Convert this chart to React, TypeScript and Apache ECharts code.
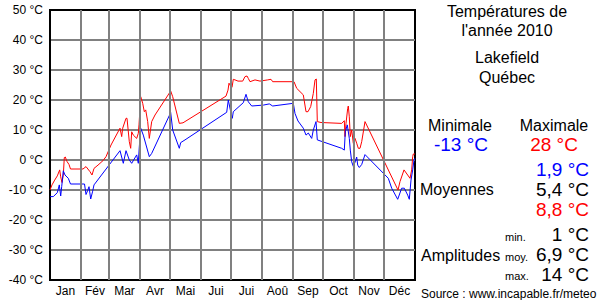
import React, { useEffect, useRef } from "react";
import * as echarts from "echarts";

const monthNames = ["Jan", "Fév", "Mar", "Avr", "Mai", "Jui", "Jui", "Aoû", "Sep", "Oct", "Nov", "Déc"];
const monthStarts = [0, 31, 59, 90, 120, 151, 181, 212, 243, 273, 304, 334, 365];
const yTicks = [-40, -30, -20, -10, 0, 10, 20, 30, 40, 50];

// [day of year, °C]
const maxTemps: [number, number][] = [
  [0, -10], [2, -8.3], [4.7, -6.7], [7.3, -5.3], [9.7, -3.3], [10.7, -5.6], [12, -7.5], [13.3, -5],
  [14.3, 0.8], [15.3, 1], [17, -0.5], [19, -1.5], [20.5, -3], [33, -3], [36, -2.2], [40, -3.9],
  [42, -5], [44, -2.8], [48, -1.7], [53, -0.2], [56, 1.1], [61, 5], [70, 10.6], [71.7, 7.8],
  [72.7, 10.6], [76, 13.9], [77, 13.9], [79.3, 6.1], [80.7, 3.9], [81.7, 9.4], [83.3, 8.3],
  [86.7, 7.2], [88.3, 8.9], [89, 11.7], [90.7, 21.1], [92.7, 18.9], [94.3, 16.1], [95.7, 16.7],
  [97.7, 12.8], [99.3, 7.2], [101.7, 12.8], [105, 15], [120.7, 23], [122.7, 21.1], [129.3, 12.2],
  [133, 12.4], [176, 21.3], [178, 23.3], [179, 25.6], [181, 24.4], [182, 24.2], [183.3, 26.9],
  [185, 26.7], [188, 26.3], [192.7, 26.3], [195, 27.8], [197, 28], [198.3, 27.2], [200, 26.1],
  [205, 26.7], [210, 26.3], [217.7, 26.7], [221, 26.9], [222.7, 26.1], [244, 26.1], [246.7, 23.9],
  [253.3, 21.7], [256, 16.1], [258, 16.1], [260.7, 17.8], [263.3, 22.2], [265, 26.7], [266.3, 27],
  [267.3, 12.8], [271, 12.5], [291.7, 12.2], [294.3, 13.1], [295, 7.8], [296, 12.2], [297.7, 17.2],
  [298.3, 18], [299.3, 14.4], [300.3, 7.8], [301.7, 10], [303.3, 5.6], [305, 7.2], [306.7, 5.6],
  [308.3, 3.9], [310, 3.9], [311.7, 6.1], [315, 12.8], [348, -10], [350, -7.2], [354, -3.3],
  [360, -6.1], [361.7, -3.3], [362.7, 1.1], [363.3, 2], [365, 2],
];

const minTemps: [number, number][] = [
  [0, -12.2], [3.3, -12.2], [7.3, -10.9], [9.3, -8.3], [10.7, -12], [11.7, -8.9], [13.3, -3.6],
  [15, -5], [18.3, -6.1], [20.5, -8], [34.5, -8], [36, -11.5], [37.5, -10.3], [39, -8.9],
  [40.7, -13], [42.5, -10.6], [44, -8.3], [70, 3.1], [73.3, -1.1], [76, 3.1], [79.3, 0],
  [81.7, -1.1], [86.7, 1.7], [88.3, -1.1], [89.3, 4.4], [90.7, 10.6], [93.3, 8.3], [99.3, 1.1],
  [101.7, 2.2], [120.7, 15.8], [122.7, 10], [129.3, 3.9], [130.7, 5.8], [135, 6.7], [176.7, 15.9],
  [178.3, 20], [180.7, 16.1], [182.3, 13.9], [183.3, 16.1], [193.3, 19.1], [196, 21.9],
  [198.3, 19.4], [201.7, 18], [213.3, 18.3], [219.3, 18.7], [222.7, 18], [243.3, 18.9], [245, 15.5],
  [248, 13], [253.3, 10.6], [256, 8.3], [258.3, 9], [261.7, 7.2], [263.3, 10], [266, 12.8],
  [267.3, 6.7], [291.7, 3.9], [294.3, 3.3], [295.3, 9.4], [297.3, 11.7], [299.3, 7.2],
  [300.3, 3.3], [301.7, -0.6], [303.3, -2.1], [305, -0.8], [306.7, 1], [307.7, -1.7],
  [309.3, -2.5], [311.7, -1.5], [315, 1.8], [333.3, -4.4], [338.3, -6.1], [341.7, -9.4],
  [347.7, -13.1], [351.7, -9.4], [354.3, -9.4], [357.7, -11.7], [359.3, -13.1], [361, -6.7],
  [362.7, -3.3], [364, 0], [365, 0.6],
];

const titleLines = ["Températures de", "l'année 2010", "Lakefield", "Québec"];
const extremes = { minLabel: "Minimale", maxLabel: "Maximale", min: "-13 °C", max: "28 °C" };
const averages = ["1,9 °C", "5,4 °C", "8,8 °C"];
const amplitudeNames = ["min.", "moy.", "max."];
const amplitudes = ["1 °C", "6,9 °C", "14 °C"];
const source = "Source : www.incapable.fr/meteo";

const FONT = "'Liberation Sans', Arial, sans-serif";

export default function App() {
  const ref = useRef<HTMLDivElement>(null);
  useEffect(() => {
    document.body.style.margin = "0";
    if (!ref.current) return;
    const chart = echarts.init(ref.current, undefined, { renderer: "svg" });
    const mids = monthNames.map((_, i) => (monthStarts[i] + monthStarts[i + 1]) / 2);
    const txt = (text: string, x: number, y: number, size: number, fill: string, align: string) => ({
      type: "text",
      x,
      y,
      style: { text, fontSize: size, fontFamily: FONT, fill, align, verticalAlign: "middle" },
    });
    const graphics: any[] = [
      txt(titleLines[0], 507, 11, 16, "#000", "center"),
      txt(titleLines[1], 507, 30, 16, "#000", "center"),
      txt(titleLines[2], 507, 57, 16, "#000", "center"),
      txt(titleLines[3], 507, 77, 16, "#000", "center"),
      txt(extremes.minLabel, 460, 125, 16, "#000", "center"),
      txt(extremes.maxLabel, 554, 125, 16, "#000", "center"),
      txt(extremes.min, 461, 144, 19, "#0000ff", "center"),
      txt(extremes.max, 554, 144, 19, "#ff0000", "center"),
      txt(averages[0], 589, 169, 19, "#0000ff", "right"),
      txt(averages[1], 589, 189, 19, "#000", "right"),
      txt(averages[2], 589, 209, 19, "#ff0000", "right"),
      txt("Moyennes", 420, 189, 16, "#000", "left"),
      txt("Amplitudes", 421, 255, 16, "#000", "left"),
      txt(amplitudeNames[0], 505, 237, 11, "#000", "left"),
      txt(amplitudeNames[1], 505, 257, 11, "#000", "left"),
      txt(amplitudeNames[2], 505, 276, 11, "#000", "left"),
      txt(amplitudes[0], 589, 234, 19, "#000", "right"),
      txt(amplitudes[1], 589, 254, 19, "#000", "right"),
      txt(amplitudes[2], 589, 274, 19, "#000", "right"),
      txt(source, 421, 294, 12, "#000", "left"),
    ];
    chart.setOption({
      animation: false,
      backgroundColor: "#fff",
      grid: { left: 50, top: 10, width: 365, height: 270, show: true, borderColor: "#000", borderWidth: 2, backgroundColor: "transparent" },
      xAxis: {
        type: "value",
        min: 0,
        max: 365,
        axisLine: { show: true, onZero: false, lineStyle: { color: "#000", width: 2 } },
        axisTick: { show: false },
        splitLine: { show: false },
        axisLabel: {
          customValues: mids,
          color: "#000",
          fontSize: 12,
          fontFamily: FONT,
          margin: 5,
          formatter: (v: number) => {
            const i = mids.findIndex((m) => Math.abs(m - v) < 0.01);
            return i >= 0 ? monthNames[i] : "";
          },
        },
      },
      yAxis: {
        type: "value",
        min: yTicks[0],
        max: yTicks[yTicks.length - 1],
        interval: 10,
        axisLine: { show: true, onZero: false, lineStyle: { color: "#000", width: 2 } },
        axisTick: { show: false },
        splitLine: { show: true, showMinLine: false, showMaxLine: false, lineStyle: { color: "#808080", width: 2 } },
        axisLabel: { formatter: "{value} °C", color: "#000", fontSize: 12, fontFamily: FONT, margin: 7 },
      },
      series: [
        {
          type: "line",
          data: [],
          z: 1,
          silent: true,
          markLine: {
            silent: true,
            symbol: "none",
            label: { show: false },
            lineStyle: { color: "#808080", width: 2, type: "solid" },
            data: monthStarts.slice(1, -1).map((d) => ({ xAxis: d })),
          },
        },
        {
          type: "line",
          data: maxTemps,
          z: 3,
          showSymbol: false,
          lineStyle: { color: "#ff0000", width: 1 },
          itemStyle: { color: "#ff0000" },
        },
        {
          type: "line",
          data: minTemps,
          z: 3,
          showSymbol: false,
          lineStyle: { color: "#0000ff", width: 1 },
          itemStyle: { color: "#0000ff" },
        },
      ],
      graphic: graphics,
    });
    return () => chart.dispose();
  }, []);
  return <div ref={ref} style={{ width: 600, height: 300 }} />;
}
